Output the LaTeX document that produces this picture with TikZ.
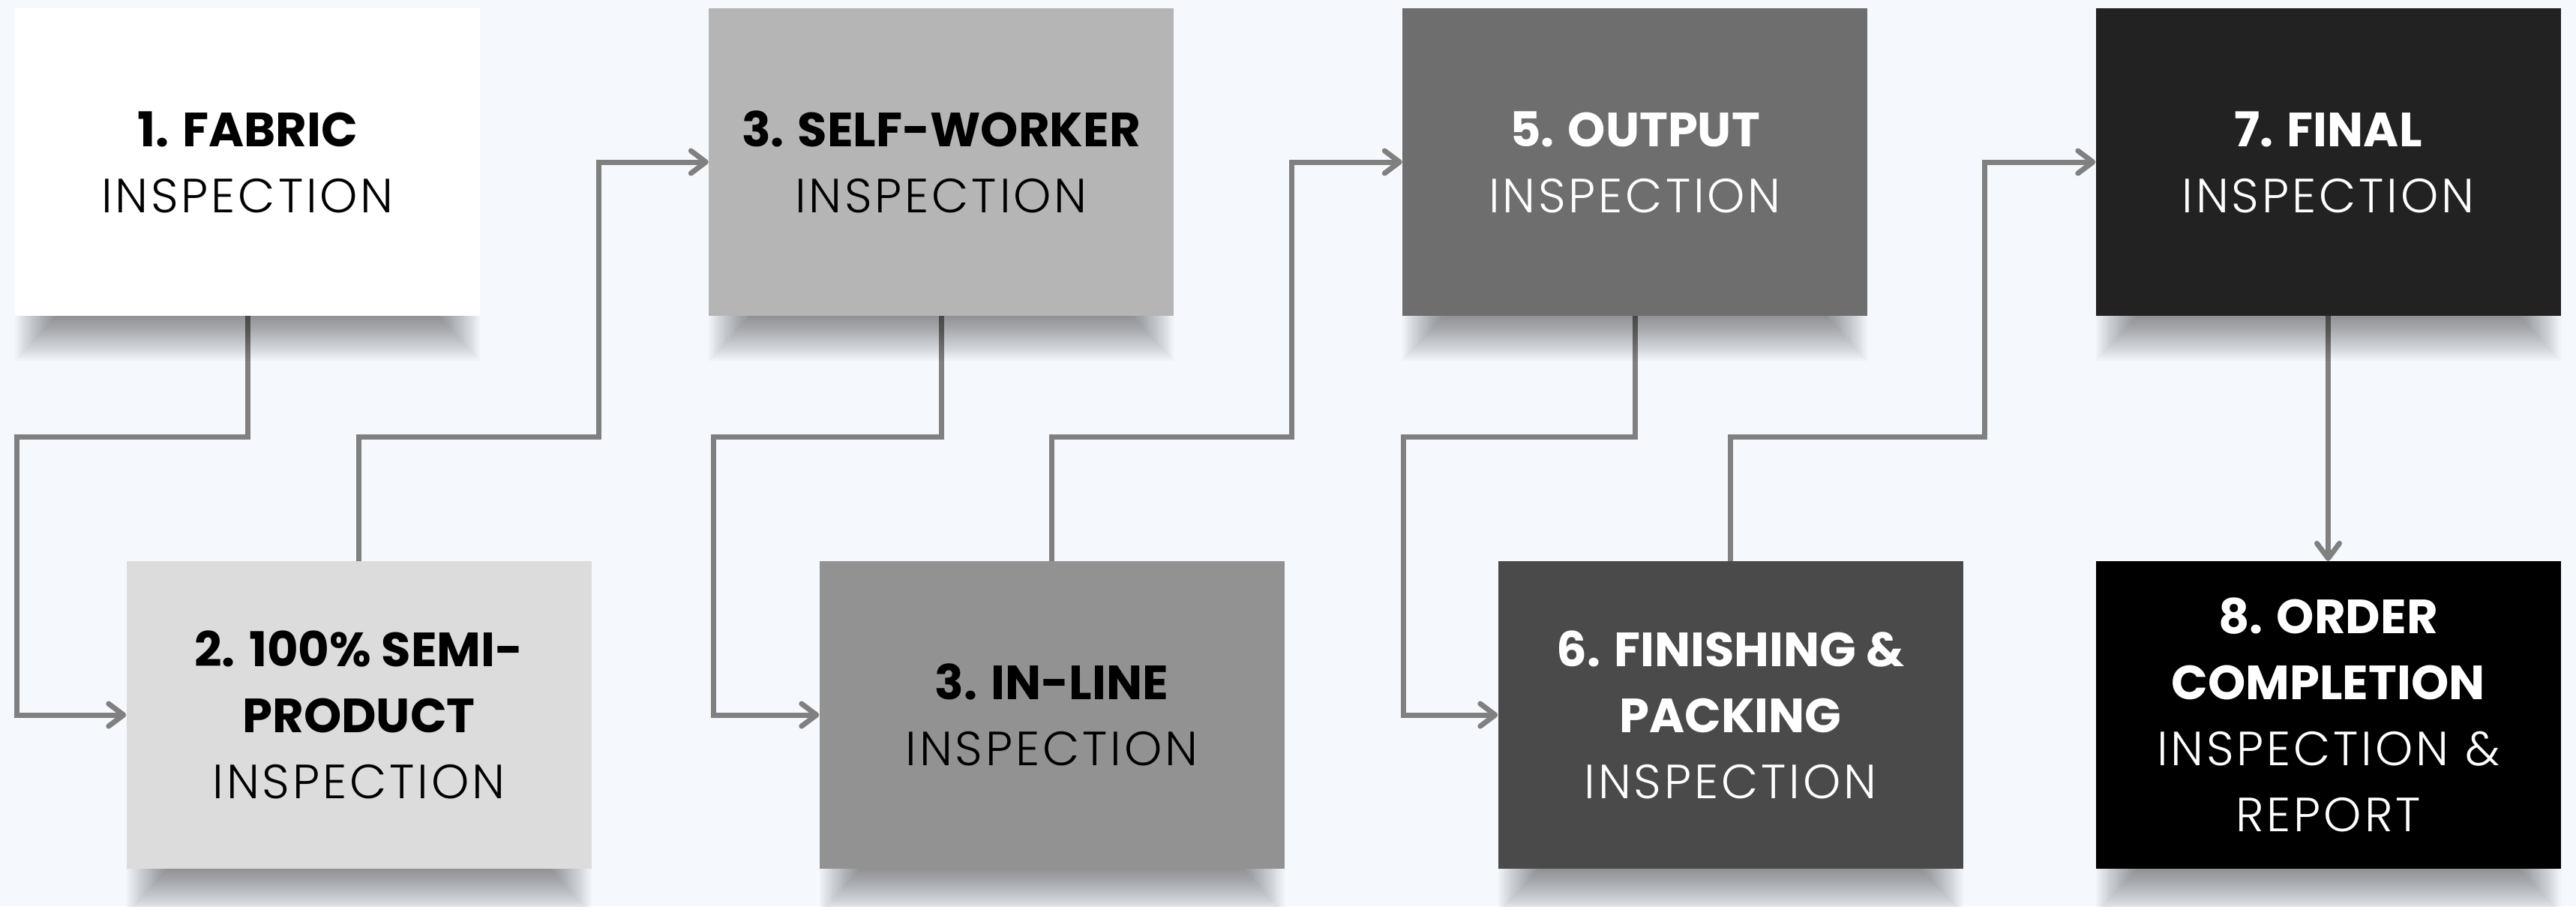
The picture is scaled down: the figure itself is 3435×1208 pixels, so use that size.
\documentclass[tikz,border=0pt]{standalone}
\usepackage{fontspec}
\setmainfont{Poppins}
\newfontfamily\lightf[LetterSpace=6]{Poppins Light}
\usetikzlibrary{arrows.meta}
\definecolor{bg}{HTML}{F5F9FE}
\definecolor{linegray}{HTML}{808080}
\definecolor{cA}{HTML}{FFFFFF}
\definecolor{cB}{HTML}{DCDCDC}
\definecolor{cC}{HTML}{B5B5B5}
\definecolor{cD}{HTML}{929292}
\definecolor{cE}{HTML}{6E6E6E}
\definecolor{cF}{HTML}{4A4A4A}
\definecolor{cG}{HTML}{222222}
\definecolor{cH}{HTML}{000000}
\pgfdeclarelayer{back}
\pgfdeclarelayer{lines}
\pgfdeclarelayer{shad}
\pgfsetlayers{back,lines,shad,main}
\newcommand\myshadow[3]{%
  \foreach \i in {0,...,19}{%
    \fill[black,opacity=0.024] ({#1+2.8*\i},#3) rectangle ({#2-2.8*\i},{#3+60-3*\i});
  }}
\begin{document}
\begin{tikzpicture}[x=1pt,y=-1pt,
  box/.style={minimum width=620pt,minimum height=410pt,inner sep=0pt,align=center,
    font=\fontsize{64}{88}\selectfont},
  conn/.style={draw=linegray,line width=7pt,line cap=round,
    -{Straight Barb[length=20pt,width=30pt,round]}}]
\begin{pgfonlayer}{back}
\fill[bg] (0,0) rectangle (3435,1208);
\end{pgfonlayer}
\useasboundingbox (0,0) rectangle (3435,1208);

\node[box,fill=cA,text=black] (b1) at (330,216) {{\bfseries 1. FABRIC}\\{\lightf INSPECTION}};
\node[box,fill=cB,text=black] (b2) at (478.5,953) {{\bfseries 2. 100\% SEMI-}\\{\bfseries PRODUCT}\\{\lightf INSPECTION}};
\node[box,fill=cC,text=black] (b3) at (1255,216) {{\bfseries 3. SELF-WORKER}\\{\lightf INSPECTION}};
\node[box,fill=cD,text=black] (b4) at (1402.5,953) {{\bfseries 3. IN-LINE}\\{\lightf INSPECTION}};
\node[box,fill=cE,text=white] (b5) at (2180,216) {{\bfseries 5. OUTPUT}\\{\lightf INSPECTION}};
\node[box,fill=cF,text=white] (b6) at (2307.5,953) {{\bfseries 6. FINISHING \&}\\{\bfseries PACKING}\\{\lightf INSPECTION}};
\node[box,fill=cG,text=white] (b7) at (3104.5,216) {{\bfseries 7. FINAL}\\{\lightf INSPECTION}};
\node[box,fill=cH,text=white] (b8) at (3104.5,953) {{\bfseries 8. ORDER}\\{\bfseries COMPLETION}\\{\lightf INSPECTION \&}\\{\lightf REPORT}};

\begin{pgfonlayer}{shad}
\myshadow{20}{640}{421}
\myshadow{168.5}{788.5}{1158}
\myshadow{945}{1565}{421}
\myshadow{1092.5}{1712.5}{1158}
\myshadow{1870}{2490}{421}
\myshadow{1997.5}{2617.5}{1158}
\myshadow{2794.5}{3414.5}{421}
\myshadow{2794.5}{3414.5}{1158}
\end{pgfonlayer}

\begin{pgfonlayer}{lines}
\draw[conn] (b1.south) |- (22,582) |- (b2.west);
\draw[conn] (b2.north) |- (798,582) |- (b3.west);
\draw[conn] (b3.south) |- (951,582) |- (b4.west);
\draw[conn] (b4.north) |- (1722,582) |- (b5.west);
\draw[conn] (b5.south) |- (1871,582) |- (b6.west);
\draw[conn] (b6.north) |- (2646,582) |- (b7.west);
\draw[conn] (b7.south) -- (b8.north);
\end{pgfonlayer}
\end{tikzpicture}
\end{document}
